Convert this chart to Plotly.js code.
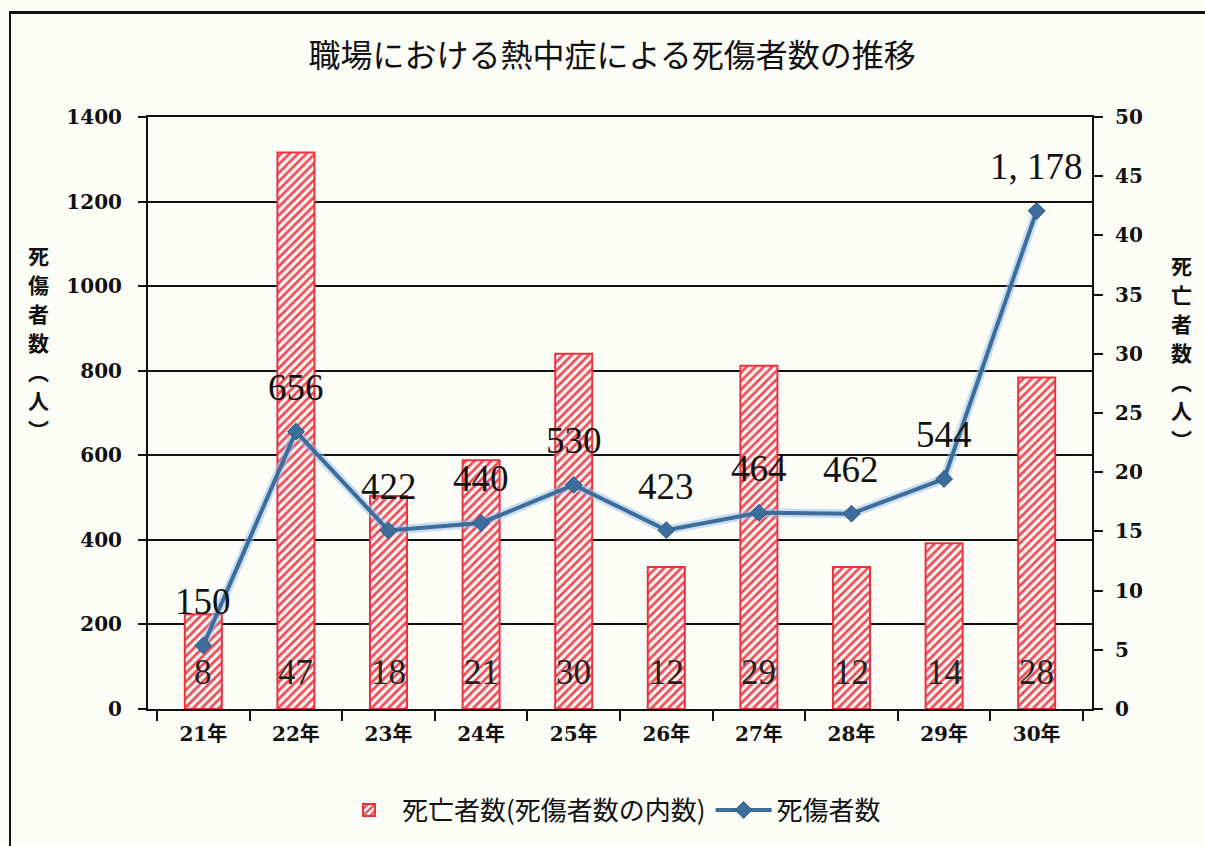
<!DOCTYPE html>
<html>
<head>
<meta charset="utf-8">
<script src="https://cdn.plot.ly/plotly-3.0.1.min.js"></script>
<style>
  html, body { margin: 0; padding: 0; background: #fdfdf8; }
  #wrap { position: relative; width: 1205px; height: 846px; }
  #chart { position: absolute; left: 0; top: 0; width: 1205px; height: 846px; }
  #frame { position: absolute; left: 9px; top: 11px; width: 1196px; height: 835px;
           border-left: 2px solid #111; border-top: 3px solid #111; pointer-events: none; }
</style>
</head>
<body>
<div id="wrap">
  <div id="chart"></div>
  <div id="frame"></div>
</div>
<script>
// ---- data ----
const years = ["21年", "22年", "23年", "24年", "25年", "26年", "27年", "28年", "29年", "30年"];
const deaths = [8, 47, 18, 21, 30, 12, 29, 12, 14, 28];
const casualties = [150, 656, 422, 440, 530, 423, 464, 462, 544, 1178];
const leftTicks = [0, 200, 400, 600, 800, 1000, 1200, 1400];
const rightTicks = [0, 5, 10, 15, 20, 25, 30, 35, 40, 45, 50];

const titleText = "職場における熱中症による死傷者数の推移";
const barName = "死亡者数(死傷者数の内数)";
const lineName = "死傷者数";
const leftTitle = "死傷者数︵人︶";
const rightTitle = "死亡者数︵人︶";

function fmt(v) {
  const s = String(v);
  if (v >= 1000) return s.slice(0, s.length - 3) + ", " + s.slice(s.length - 3);
  return s;
}

const serif = "Liberation Serif, Noto Sans CJK JP, serif";
const tickFont = "DejaVu Serif, Noto Sans CJK JP, serif";
const cjk = "Noto Sans CJK JP, sans-serif";

const barTrace = {
  type: "bar",
  x: years,
  y: deaths,
  yaxis: "y",
  name: barName,
  width: 0.4,
  marker: {
    color: "#fff4f4",
    pattern: { shape: "/", fgcolor: "#ee4a52", bgcolor: "#fff6f6", size: 6, solidity: 0.45 },
    line: { color: "#e8353d", width: 2 }
  },
  hoverinfo: "x+y"
};

const haloTrace = {
  type: "scatter",
  mode: "lines",
  x: years,
  y: casualties,
  yaxis: "y2",
  line: { color: "rgba(150,190,230,0.5)", width: 9 },
  showlegend: false,
  hoverinfo: "skip"
};

const lineTrace = {
  type: "scatter",
  mode: "lines+markers",
  x: years,
  y: casualties,
  yaxis: "y2",
  name: lineName,
  line: { color: "#3c6d9c", width: 4 },
  marker: { symbol: "diamond", size: 13, color: "#3c6d9c", line: { color: "#2d5a86", width: 1 } }
};

const annotations = [];
years.forEach((yr, i) => {
  annotations.push({
    x: yr, y: casualties[i], xref: "x", yref: "y2",
    text: fmt(casualties[i]), showarrow: false,
    yshift: 44, yanchor: "middle", xanchor: "center",
    font: { family: serif, size: 37, color: "#111" }
  });
  annotations.push({
    x: yr, y: 0, xref: "x", yref: "y",
    text: String(deaths[i]), showarrow: false,
    yshift: 37, yanchor: "middle", xanchor: "center",
    font: { family: serif, size: 35, color: "#222" }
  });
});

// vertical axis titles: one character per annotation, stacked
function verticalTitle(str, xPx, topPx) {
  const chars = Array.from(str);
  chars.forEach((ch, k) => {
    annotations.push({
      xref: "paper", yref: "paper",
      x: (xPx - 148) / 944, y: (709 - topPx) / 592,
      yshift: -29 * k,
      text: ch, showarrow: false,
      xanchor: "center", yanchor: "middle",
      font: { family: cjk, size: 21, color: "#111", weight: "bold" }
    });
  });
}
verticalTitle(leftTitle, 38, 255);
verticalTitle(rightTitle, 1181, 265);

const layout = {
  width: 1205,
  height: 846,
  paper_bgcolor: "#fdfdf8",
  plot_bgcolor: "rgba(0,0,0,0)",
  margin: { l: 148, r: 113, t: 117, b: 137, pad: 0 },
  title: {
    text: titleText,
    x: 0.508, xanchor: "center",
    y: 1 - 56 / 846, yanchor: "middle",
    font: { family: cjk, size: 32, color: "#111" }
  },
  showlegend: true,
  legend: {
    orientation: "h",
    x: (611 - 148) / 944, xanchor: "center",
    y: (709 - 810) / 592, yanchor: "middle",
    font: { family: cjk, size: 26, color: "#111" },
    bgcolor: "rgba(0,0,0,0)",
    itemwidth: 56,
    traceorder: "normal"
  },
  xaxis: {
    type: "category",
    tickson: "boundaries",
    ticks: "outside",
    ticklen: 10,
    tickwidth: 2,
    tickcolor: "#111",
    showline: true,
    mirror: true,
    linecolor: "#111",
    linewidth: 2,
    showgrid: false,
    ticklabelstandoff: 6,
    tickfont: { family: tickFont, size: 20, color: "#111", weight: "bold" },
    fixedrange: true
  },
  yaxis: {
    side: "right",
    range: [0, 50],
    tickvals: rightTicks,
    ticks: "outside",
    ticklen: 9,
    tickwidth: 2,
    tickcolor: "#111",
    showline: true,
    linecolor: "#111",
    linewidth: 2,
    showgrid: false,
    zeroline: false,
    ticklabelstandoff: 8,
    tickfont: { family: tickFont, size: 20, color: "#111", weight: "bold" },
    fixedrange: true
  },
  yaxis2: {
    overlaying: "y",
    side: "left",
    range: [0, 1400],
    tickvals: leftTicks,
    ticks: "outside",
    ticklen: 8,
    tickwidth: 2,
    tickcolor: "#111",
    showline: true,
    linecolor: "#111",
    linewidth: 2,
    showgrid: true,
    gridcolor: "#111",
    gridwidth: 2,
    zeroline: false,
    ticklabelstandoff: 12,
    tickfont: { family: tickFont, size: 20, color: "#111", weight: "bold" },
    fixedrange: true
  },
  annotations: annotations
};

Plotly.newPlot("chart", [barTrace, haloTrace, lineTrace], layout, { displayModeBar: false, staticPlot: true });
</script>
</body>
</html>
